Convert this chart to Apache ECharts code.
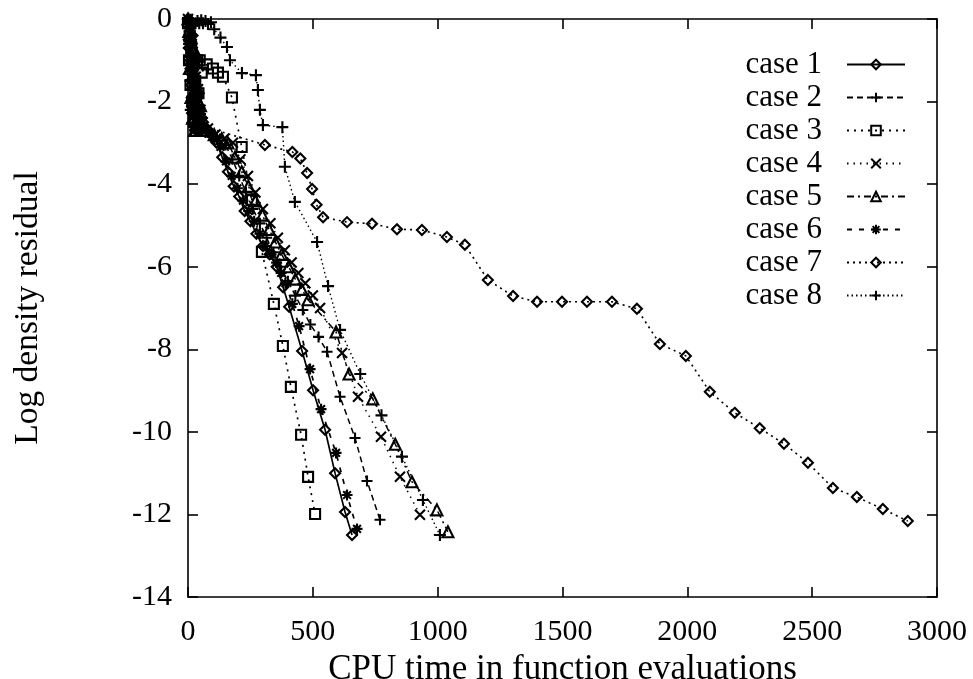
<!DOCTYPE html>
<html>
<head>
<meta charset="utf-8">
<script src="https://cdn.jsdelivr.net/npm/echarts@6/dist/echarts.min.js"></script>
<style>html,body{margin:0;padding:0;background:#fff}#c{width:973px;height:679px}</style>
</head>
<body>
<div id="c"></div>
<script>
var xTicks = [0, 500, 1000, 1500, 2000, 2500, 3000];
var yTicks = [0, -2, -4, -6, -8, -10, -12, -14];
var seriesNames = ['case 1', 'case 2', 'case 3', 'case 4', 'case 5', 'case 6', 'case 7', 'case 8'];

var case1 = [[0,0],[3,-0.7],[6,-0.2],[9,-1.3],[12,-0.5],[15,-1.9],[18,-0.9],[21,-2.3],[24,-1.2],[27,-2.6],[31,-1.6],[35,-2.4],[39,-1.9],[43,-2.7],[48,-2.2],[53,-2.7],[60,-2.5],[75,-2.65],[95,-2.8],[115,-3.0],[137,-3.35],[160,-3.7],[183,-4.05],[205,-4.3],[227,-4.65],[250,-4.9],[274,-5.2],[300,-5.5],[327,-5.7],[355,-6.0],[381,-6.5],[405,-6.97],[457,-8.04],[501,-8.99],[549,-9.95],[589,-11.0],[629,-11.94],[657,-12.5]];
var case2 = [[0,-0.1],[2,-0.9],[5,-0.3],[8,-1.5],[11,-0.6],[14,-2.1],[17,-1.0],[20,-2.5],[24,-1.4],[28,-2.7],[32,-1.8],[36,-2.6],[40,-2.1],[45,-2.7],[50,-2.3],[56,-2.7],[70,-2.75],[100,-2.85],[125,-2.95],[150,-3.05],[178,-3.4],[205,-3.8],[232,-4.2],[260,-4.6],[288,-4.95],[315,-5.3],[342,-5.65],[370,-6.0],[400,-6.35],[430,-6.7],[460,-7.05],[490,-7.4],[523,-7.7],[557,-8.06],[609,-9.15],[669,-10.15],[717,-11.19],[769,-12.13]];
var case3 = [[0,-0.1],[4,-1.0],[7,-0.4],[10,-1.6],[13,-0.7],[17,-2.0],[21,-1.1],[25,-2.5],[29,-1.5],[33,-2.2],[37,-1.0],[42,-1.8],[47,-1.0],[55,-1.3],[75,-1.1],[100,-1.2],[120,-1.3],[140,-1.4],[176,-1.9],[215,-3.1],[256,-4.38],[296,-5.64],[344,-6.9],[380,-7.92],[412,-8.91],[453,-10.07],[481,-11.09],[509,-11.99]];
var case4 = [[0,0],[2,-0.5],[4,-0.1],[7,-1.1],[10,-0.3],[13,-1.6],[16,-2.4],[19,-0.8],[23,-2.0],[27,-2.7],[31,-1.4],[35,-2.5],[40,-1.7],[45,-2.6],[50,-2.2],[58,-2.5],[80,-2.65],[110,-2.8],[145,-2.9],[180,-3.0],[210,-3.4],[240,-3.8],[270,-4.2],[300,-4.6],[330,-4.95],[360,-5.3],[388,-5.6],[415,-5.9],[442,-6.15],[470,-6.4],[500,-6.7],[529,-7.0],[617,-8.09],[681,-9.15],[773,-10.12],[849,-11.09],[929,-12.01]];
var case5 = [[0,0],[3,-0.3],[6,-1.2],[9,-0.4],[12,-1.9],[15,-0.7],[18,-2.4],[22,-1.3],[26,-2.7],[30,-1.5],[34,-2.3],[38,-0.9],[42,-2.0],[46,-2.5],[50,-2.1],[54,-2.6],[75,-2.7],[105,-2.8],[135,-2.9],[160,-3.0],[188,-3.35],[215,-3.7],[242,-4.05],[270,-4.4],[298,-4.75],[325,-5.1],[350,-5.4],[375,-5.7],[403,-6.0],[430,-6.3],[456,-6.55],[481,-6.8],[593,-7.58],[645,-8.6],[740,-9.2],[830,-10.3],[897,-11.21],[997,-11.89],[1041,-12.42]];
var case6 = [[0,0],[2,-0.6],[4,-1.0],[7,-0.3],[9,-2.2],[12,-1.2],[14,-0.6],[17,-1.9],[20,-1.7],[23,-2.6],[26,-2.7],[29,-1.5],[32,-1.0],[35,-2.0],[38,-2.4],[42,-1.8],[45,-2.7],[51,-2.4],[57,-2.6],[80,-2.75],[105,-2.9],[130,-3.1],[152,-3.45],[175,-3.8],[198,-4.1],[220,-4.4],[243,-4.65],[265,-4.9],[288,-5.2],[310,-5.5],[333,-5.7],[355,-5.9],[373,-6.15],[390,-6.4],[418,-6.9],[445,-7.44],[489,-8.48],[533,-9.45],[593,-10.51],[637,-11.53],[677,-12.35]];
var case7 = [[0,0],[3,-0.5],[6,-0.2],[9,-1.1],[12,-1.6],[15,-0.6],[18,-0.4],[21,-1.9],[24,-2.3],[27,-1.4],[30,-1.0],[33,-2.1],[36,-2.7],[40,-2.2],[43,-1.8],[47,-2.5],[50,-2.6],[56,-2.4],[62,-2.6],[308,-3.05],[418,-3.22],[450,-3.38],[477,-3.73],[497,-4.12],[515,-4.5],[541,-4.8],[637,-4.92],[737,-4.96],[837,-5.09],[937,-5.11],[1037,-5.28],[1109,-5.47],[1201,-6.32],[1302,-6.71],[1398,-6.85],[1498,-6.85],[1598,-6.85],[1698,-6.85],[1798,-7.02],[1890,-7.87],[1994,-8.16],[2090,-9.03],[2190,-9.54],[2290,-9.91],[2387,-10.29],[2483,-10.75],[2583,-11.36],[2679,-11.58],[2783,-11.87],[2883,-12.16]];
var case8 = [[0,0],[5,-0.1],[10,-0.02],[15,-0.05],[22,-0.15],[30,-0.1],[38,-0.05],[45,-0.1],[53,-0.03],[60,-0.1],[70,-0.05],[80,-0.12],[92,-0.08],[105,-0.25],[130,-0.45],[156,-0.68],[168,-1.0],[216,-1.31],[272,-1.36],[280,-1.72],[288,-2.2],[300,-2.57],[378,-2.62],[388,-3.58],[428,-4.43],[517,-5.4],[561,-6.47],[609,-7.53],[690,-8.6],[775,-9.6],[857,-10.6],[941,-11.65],[1009,-12.5]];

var FONT = "'Liberation Serif','Times New Roman',serif";
var PLUS = 'path://M0,5L10,5M5,0L5,10';
var CROSS = 'path://M0,0L10,10M10,0L0,10';
var STAR = 'path://M0,5L10,5M5,0L5,10M1.5,1.5L8.5,8.5M8.5,1.5L1.5,8.5';

var styles = [
  {data: case1, symbol: 'diamond', size: 10, dash: 'solid', w: 1.7},
  {data: case2, symbol: PLUS, size: 11, dash: [6, 4], w: 1.5},
  {data: case3, symbol: 'rect', size: 10, dash: [2, 5], w: 1.7},
  {data: case4, symbol: CROSS, size: 10, dash: [1.5, 5], w: 1.5},
  {data: case5, symbol: 'triangle', size: 11, dash: [7, 4, 2, 4], w: 1.5},
  {data: case6, symbol: STAR, size: 11, dash: [5, 7], w: 1.7},
  {data: case7, symbol: 'diamond', size: 10, dash: [2, 4], w: 1.6},
  {data: case8, symbol: PLUS, size: 12, dash: [1.5, 3], w: 1.4}
];

var series = styles.map(function (s, i) {
  return {
    name: seriesNames[i],
    type: 'line',
    xAxisIndex: 0,
    yAxisIndex: 0,
    data: s.data,
    symbol: s.symbol,
    symbolSize: s.size,
    showAllSymbol: true,
    lineStyle: {color: '#000', width: s.w, type: s.dash},
    itemStyle: {color: 'rgba(255,255,255,0)', borderColor: '#000', borderWidth: 2.1},
    emphasis: {disabled: true},
    animation: false
  };
});

function xAxisCfg(pos, main) {
  return {
    type: 'value', position: pos, min: 0, max: 3000, interval: 500,
    axisLine: {show: true, onZero: false, lineStyle: {color: '#000', width: 1.6}},
    axisTick: {show: true, inside: true, length: 10, lineStyle: {color: '#000', width: 1.6}},
    axisLabel: {show: main, margin: 20, color: '#000', fontSize: 30, fontFamily: FONT,
      formatter: function (v) { return xTicks.indexOf(v) >= 0 ? String(v) : ''; }},
    splitLine: {show: false},
    name: main ? 'CPU time in function evaluations' : '',
    nameLocation: 'middle', nameGap: 44,
    nameTextStyle: {color: '#000', fontSize: 35, fontFamily: FONT}
  };
}
function yAxisCfg(pos, main) {
  return {
    type: 'value', position: pos, min: -14, max: 0, interval: 2,
    axisLine: {show: true, onZero: false, lineStyle: {color: '#000', width: 1.6}},
    axisTick: {show: true, inside: true, length: 10, lineStyle: {color: '#000', width: 1.6}},
    axisLabel: {show: main, margin: 16, color: '#000', fontSize: 30, fontFamily: FONT,
      formatter: function (v) { return yTicks.indexOf(v) >= 0 ? String(v) : ''; }},
    splitLine: {show: false},
    name: main ? 'Log density residual' : '',
    nameLocation: 'middle', nameGap: 143,
    nameTextStyle: {color: '#000', fontSize: 33.5, fontFamily: FONT}
  };
}

var chart = echarts.init(document.getElementById('c'), null, {renderer: 'canvas'});
chart.setOption({
  backgroundColor: '#fff',
  animation: false,
  grid: {left: 188, right: 36, top: 19, bottom: 82, containLabel: false, outerBoundsMode: 'none'},
  legend: {
    data: seriesNames, orient: 'vertical', right: 62, top: 44, align: 'right',
    itemWidth: 58, itemHeight: 12, itemGap: 2,
    textStyle: {color: '#000', fontSize: 31, fontFamily: FONT, lineHeight: 30.5, padding: [0, 20, 0, 0]},
    selectedMode: false
  },
  xAxis: [xAxisCfg('bottom', true), xAxisCfg('top', false)],
  yAxis: [yAxisCfg('left', true), yAxisCfg('right', false)],
  series: series
});
</script>
</body>
</html>
